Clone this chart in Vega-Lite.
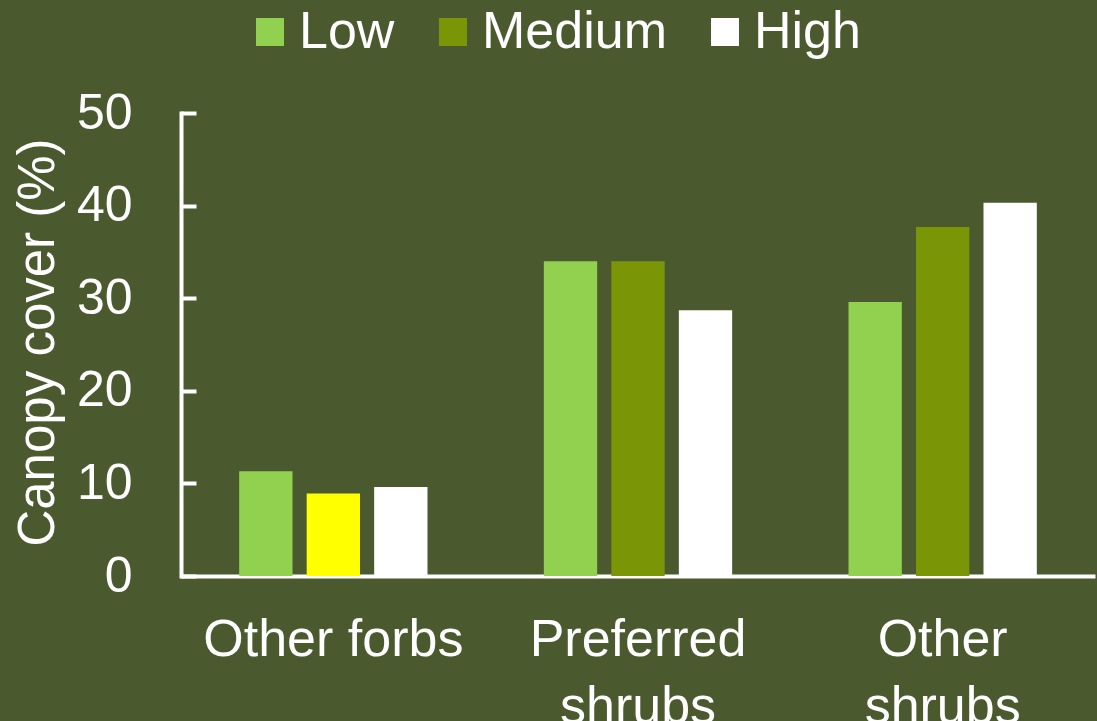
{
  "$schema": "https://vega.github.io/schema/vega-lite/v6.json",
  "width": 914,
  "height": 463,
  "autosize": {"type": "none"},
  "padding": {"left": 181, "top": 113, "right": 2, "bottom": 145},
  "background": "#4a5a2e",
  "config": {
    "font": "Liberation Sans",
    "view": {"stroke": null},
    "axis": {"grid": false, "labelColor": "#ffffff", "titleColor": "#ffffff", "domainColor": "#ffffff", "tickColor": "#ffffff"}
  },
  "data": {
    "values": [
      {"group": "Other forbs", "level": "Low", "cover": 11.3},
      {"group": "Other forbs", "level": "Medium", "cover": 8.9},
      {"group": "Other forbs", "level": "High", "cover": 9.6},
      {"group": "Preferred shrubs", "level": "Low", "cover": 34.0},
      {"group": "Preferred shrubs", "level": "Medium", "cover": 34.0},
      {"group": "Preferred shrubs", "level": "High", "cover": 28.7},
      {"group": "Other shrubs", "level": "Low", "cover": 29.6},
      {"group": "Other shrubs", "level": "Medium", "cover": 37.7},
      {"group": "Other shrubs", "level": "High", "cover": 40.3}
    ]
  },
  "mark": {"type": "bar"},
  "encoding": {
    "x": {
      "field": "group",
      "type": "nominal",
      "sort": ["Other forbs", "Preferred shrubs", "Other shrubs"],
      "scale": {"paddingInner": 0, "paddingOuter": 0},
      "axis": {
        "title": null,
        "labelAngle": 0,
        "labelFontSize": 52,
        "labelBaseline": "top",
        "labelPadding": 38,
        "labelLineHeight": 67,
        "labelLimit": 0,
        "ticks": false,
        "domainWidth": 4,
        "labelExpr": "datum.label === 'Other forbs' ? datum.label : split(datum.label, ' ')"
      }
    },
    "xOffset": {
      "field": "level",
      "type": "nominal",
      "sort": ["Low", "Medium", "High"],
      "scale": {"paddingInner": 0.21, "paddingOuter": 0.862}
    },
    "y": {
      "field": "cover",
      "type": "quantitative",
      "scale": {"domain": [0, 50], "nice": false},
      "axis": {
        "title": "Canopy cover (%)",
        "values": [0, 10, 20, 30, 40, 50],
        "labelFontSize": 50,
        "labelPadding": 64,
        "tickSize": -15,
        "tickWidth": 4,
        "domainWidth": 4,
        "domainCap": "square",
        "titleFontSize": 51,
        "titleFontWeight": "normal",
        "titleAngle": -90,
        "titleAlign": "center",
        "titleBaseline": "alphabetic",
        "titleX": -128,
        "titleY": 229
      }
    },
    "color": {
      "condition": {"test": "datum.group === 'Other forbs' && datum.level === 'Medium'", "value": "#ffff00"},
      "field": "level",
      "type": "nominal",
      "scale": {"domain": ["Low", "Medium", "High"], "range": ["#92d050", "#7a9607", "#ffffff"]},
      "legend": {
        "title": null,
        "orient": "none",
        "direction": "horizontal",
        "legendX": 63,
        "legendY": -107,
        "padding": 0,
        "symbolType": "square",
        "symbolSize": 784,
        "symbolStrokeWidth": 0,
        "symbolOpacity": 1,
        "labelFontSize": 52,
        "labelColor": "#ffffff",
        "labelOffset": 3,
        "labelLimit": 0,
        "columnPadding": 32
      }
    }
  }
}
